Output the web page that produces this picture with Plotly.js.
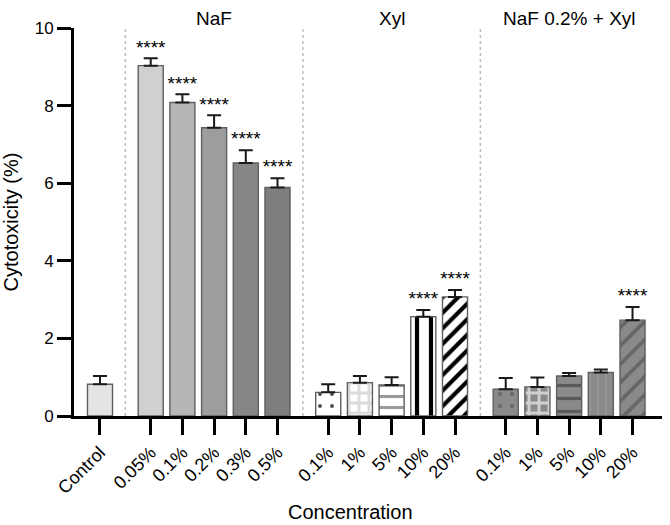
<!DOCTYPE html>
<html>
<head>
<meta charset="utf-8">
<script src="https://cdn.plot.ly/plotly-3.0.1.min.js"></script>
<style>html,body{margin:0;padding:0;background:#fff}#chart{width:670px;height:525px}</style>
</head>
<body>
<div id="chart"></div>
<script>
// ---- data ----
const groupNames = ['Control', 'NaF', 'Xyl', 'NaF 0.2% + Xyl'];
const groupOf = [0, 1, 1, 1, 1, 1, 2, 2, 2, 2, 2, 3, 3, 3, 3, 3];
const categories = ['Control', '0.05%', '0.1%', '0.2%', '0.3%', '0.5%',
                    '0.1%', '1%', '5%', '10%', '20%',
                    '0.1%', '1%', '5%', '10%', '20%'];
const cytotoxicity = [0.82, 9.03, 8.08, 7.43, 6.52, 5.89,
                      0.61, 0.86, 0.80, 2.56, 3.07,
                      0.69, 0.75, 1.03, 1.12, 2.47];
const sem = [0.21, 0.19, 0.21, 0.32, 0.33, 0.24,
             0.21, 0.17, 0.20, 0.17, 0.18,
             0.29, 0.24, 0.08, 0.08, 0.34];
const significance = ['', '****', '****', '****', '****', '****',
                      '', '', '', '****', '****',
                      '', '', '', '', '****'];

// ---- styles ----
const fillColors = ['#e4e4e4', '#d0d0d0', '#b6b6b6', '#9d9d9d', '#868686', '#7e7e7e',
                    '#ffffff', '#ffffff', '#ffffff', '#ffffff', '#ffffff',
                    '#8a8a8a', '#8a8a8a', '#8a8a8a', '#8a8a8a', '#8a8a8a'];
const patShape = ['', '', '', '', '', '',
                  '.', '+', '-', '|', '/',
                  '.', '+', '-', '|', '/'];
const patFg = ['#000', '#000', '#000', '#000', '#000', '#000',
               '#4a4a4a', '#dcdcdc', '#9a9a9a', '#000000', '#000000',
               '#6a6a6a', '#d0d0d0', '#5a5a5a', '#959595', '#666666'];
const patSize = [8, 8, 8, 8, 8, 8,
                 12, 10, 11, 14, 11,
                 12, 10, 13, 8, 13];
const patSolidity = [0.3, 0.3, 0.3, 0.3, 0.3, 0.3,
                     0.08, 0.5, 0.28, 0.3, 0.38,
                     0.1, 0.5, 0.25, 0.25, 0.28];

// positions derived from group structure
const groupGap = 0.6;
const xpos = categories.map((c, i) => i + groupGap * groupOf[i]);

const traces = categories.map((c, i) => ({
  type: 'bar',
  x: [xpos[i]],
  y: [cytotoxicity[i]],
  width: 0.79,
  marker: {
    color: fillColors[i],
    line: {color: '#5f5f5f', width: 1.4},
    pattern: patShape[i] ? {
      shape: patShape[i],
      fgcolor: patFg[i],
      bgcolor: fillColors[i],
      size: patSize[i],
      solidity: patSolidity[i],
      fgopacity: 1,
      fillmode: 'overlay'
    } : {shape: ''}
  },
  error_y: {
    type: 'data', symmetric: false,
    array: [sem[i]], arrayminus: [0],
    color: '#1a1a1a', thickness: 2, width: 7
  },
  hoverinfo: 'skip',
  showlegend: false
}));

const sigIdx = significance.map((s, i) => s ? i : -1).filter(i => i >= 0);
traces.push({
  type: 'scatter', mode: 'text',
  x: sigIdx.map(i => xpos[i]),
  y: sigIdx.map(i => cytotoxicity[i] + sem[i]),
  text: sigIdx.map(i => significance[i]),
  textposition: 'top center',
  textfont: {size: 19, color: '#000'},
  cliponaxis: false,
  hoverinfo: 'skip', showlegend: false
});

// separators and group labels
const shapes = [];
const annotations = [];
for (let g = 1; g < groupNames.length; g++) {
  const prev = xpos.filter((x, i) => groupOf[i] === g - 1);
  const cur = xpos.filter((x, i) => groupOf[i] === g);
  const sep = (Math.max(...prev) + Math.min(...cur)) / 2;
  shapes.push({type: 'line', xref: 'x', yref: 'y', x0: sep, x1: sep, y0: 0, y1: 10,
               layer: 'below', line: {color: '#bdbdbd', width: 1.5, dash: 'dot'}});
  annotations.push({xref: 'x', yref: 'paper', x: (Math.min(...cur) + Math.max(...cur)) / 2,
                    y: 1, yanchor: 'bottom', yshift: -3, showarrow: false,
                    text: groupNames[g], font: {size: 19, color: '#000'}});
}
annotations.push({xref: 'paper', yref: 'paper', x: 0.471, y: -0.248, yanchor: 'middle',
                  showarrow: false, text: 'Concentration', font: {size: 20, color: '#000'}});

const layout = {
  width: 670, height: 525,
  margin: {l: 74, r: 8, t: 28, b: 109},
  paper_bgcolor: '#fff', plot_bgcolor: '#fff',
  font: {family: '"Liberation Sans", Arial, sans-serif', color: '#000'},
  xaxis: {
    range: [-0.82, 17.73],
    tickvals: xpos, ticktext: categories,
    tickangle: -45, tickfont: {size: 18},
    ticks: 'outside', ticklen: 16, tickwidth: 3, tickcolor: '#000',
    showline: true, linewidth: 3, linecolor: '#000',
    showgrid: false, zeroline: false, fixedrange: true
  },
  yaxis: {
    range: [0, 10], dtick: 2,
    tickfont: {size: 17},
    ticks: 'outside', ticklen: 14, tickwidth: 3, tickcolor: '#000',
    showline: true, linewidth: 3, linecolor: '#000',
    showgrid: false, zeroline: false, fixedrange: true,
    title: {text: 'Cytotoxicity (%)', font: {size: 20}, standoff: 16}
  },
  shapes: shapes,
  annotations: annotations,
  barmode: 'overlay',
  bargap: 0
};

Plotly.newPlot('chart', traces, layout, {displayModeBar: false, staticPlot: true});
</script>
</body>
</html>
